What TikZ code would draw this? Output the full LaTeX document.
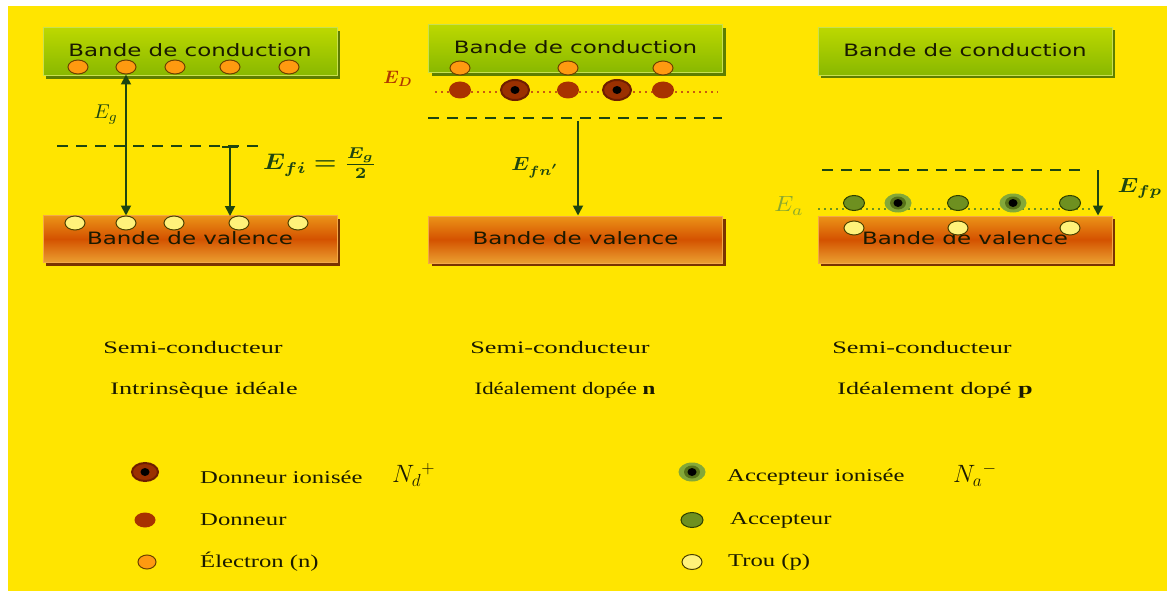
\documentclass[tikz,border=0pt]{standalone}
\usepackage{fontspec}
\usepackage{amsmath,bm}
\usetikzlibrary{shapes.geometric,arrows.meta,shadows}
\setmainfont{Liberation Serif}
\newfontfamily\bandfont[FakeStretch=1.35]{DejaVu Sans}
\newfontfamily\capfont[FakeStretch=1.5]{Liberation Serif}
\newfontfamily\capnarrow[FakeStretch=1.31]{Liberation Serif}
\newfontfamily\legfont[FakeStretch=1.37]{Liberation Serif}

\definecolor{bg}{HTML}{FFE500}
\definecolor{textc}{HTML}{1A1A00}
\definecolor{cbtop}{HTML}{BCD800}
\definecolor{cbbot}{HTML}{88B800}
\definecolor{cbedge}{HTML}{C8E050}
\definecolor{cbshadow}{HTML}{5E7E00}
\definecolor{vbtop}{HTML}{EC9418}
\definecolor{vbmid}{HTML}{D45200}
\definecolor{vbbot}{HTML}{EBA030}
\definecolor{vbedge}{HTML}{F4A848}
\definecolor{vbshadow}{HTML}{7A3400}
\definecolor{lvl}{HTML}{1E4510}
\definecolor{elfill}{HTML}{FF9A10}
\definecolor{eldraw}{HTML}{6B4000}
\definecolor{hofill}{HTML}{FFF27A}
\definecolor{hodraw}{HTML}{4A4000}
\definecolor{dofill}{HTML}{A83200}
\definecolor{ionring}{HTML}{6E1E00}
\definecolor{ionfill}{HTML}{9A3000}
\definecolor{acfill}{HTML}{6E9020}
\definecolor{acdraw}{HTML}{2E4000}
\definecolor{acring}{HTML}{84A838}
\definecolor{edcol}{HTML}{B03A00}
\definecolor{eacol}{HTML}{8AA830}
\definecolor{dotbrown}{HTML}{C85A10}
\definecolor{dotgreen}{HTML}{6B9020}

\begin{document}
\begin{tikzpicture}[x=1pt,y=-1pt,
  band/.style={rectangle, inner sep=0pt, line width=1pt, text=textc,
    font=\bandfont\fontsize{17}{20}\selectfont},
  cband/.style={band, minimum width=294pt, minimum height=48pt, draw=cbedge,
    top color=cbtop, bottom color=cbbot,
    drop shadow={shadow xshift=3pt, shadow yshift=-3pt, fill=cbshadow, opacity=1}},
  vband/.style={band, minimum width=294pt, minimum height=47pt, draw=vbedge,
    top color=vbtop, bottom color=vbbot, middle color=vbmid,
    drop shadow={shadow xshift=3pt, shadow yshift=-3pt, fill=vbshadow, opacity=1}},
  particle/.style={ellipse, inner sep=0pt},
  electron/.style={particle, minimum width=20pt, minimum height=14pt,
    fill=elfill, draw=eldraw, line width=1pt},
  hole/.style={particle, minimum width=20pt, minimum height=14pt,
    fill=hofill, draw=hodraw, line width=1pt},
  donor/.style={particle, minimum width=22pt, minimum height=17pt, fill=dofill},
  iondonor/.style={particle, minimum width=28pt, minimum height=20pt,
    fill=ionfill, draw=ionring, line width=2pt,
    path picture={\fill[black] (path picture bounding box.center) ellipse (4.5pt and 4pt);}},
  acceptor/.style={particle, minimum width=21pt, minimum height=15pt,
    fill=acfill, draw=acdraw, line width=1pt},
  ionacceptor/.style={particle, minimum width=27pt, minimum height=19pt, fill=acring,
    path picture={\fill[acfill!80!black] (path picture bounding box.center) ellipse (8pt and 6.5pt);
                  \fill[black] (path picture bounding box.center) ellipse (4.5pt and 4pt);}},
  fermi/.style={draw=lvl, line width=2.2pt, dash pattern=on 11pt off 8pt},
  gap/.style={draw=lvl, line width=1.8pt},
  tip/.style={-{Triangle[length=10pt,width=10pt]}},
  dtip/.style={{Triangle[length=10pt,width=10pt]}-{Triangle[length=10pt,width=10pt]}},
  caption/.style={text=textc, font=\capfont\fontsize{17.5}{20}\selectfont, inner sep=0pt},
  legend/.style={text=textc, font=\legfont\fontsize{18}{20}\selectfont, inner sep=0pt, anchor=west},
  lab/.style={text=lvl, inner sep=0pt}
]
\useasboundingbox (0,0) rectangle (1167,591);
\fill[white] (0,0) rectangle (1167,591);
\fill[bg] (8,6) rectangle (1167,591);

% ---------- intrinsic semiconductor ----------
\node[cband] (cb1) at (190,52) {\raisebox{4pt}{Bande de conduction}};
\node[vband] (vb1) at (190,239) {\raisebox{2pt}{Bande de valence}};
\foreach \x [count=\i] in {78,126,175,230,289}
  \node[electron] (e1\i) at (\x,67) {};
\foreach \x [count=\i] in {75,126,174,239,298}
  \node[hole] (h1\i) at (\x,223) {};
\coordinate (f1a) at (57,146);
\coordinate (f1b) at (265,146);
\draw[fermi] (f1a) -- (f1b);
\draw[gap,dtip] (e12.south) -- (h12.north);
\coordinate (a1s) at (230,147);
\coordinate (a1e) at (230,216);
\draw[gap,tip] (a1s) -- (a1e);
\draw[gap] (222,147) -- (238,147);
\node[lab] (eg) at (106,115) {\scalebox{2}{$E_g$}};
\node[lab, anchor=west] (efi) at (263,163)
  {\scalebox{2.55}[2.25]{$\bm{E_{fi}=\frac{E_g}{2}}$}};

% ---------- n-type semiconductor ----------
\node[cband] (cb2) at (575.5,49) {\raisebox{4pt}{Bande de conduction}};
\node[vband] (vb2) at (575.5,239.5) {\raisebox{2pt}{Bande de valence}};
\coordinate (d2a) at (435,92);
\coordinate (d2b) at (718,92);
\draw[dotbrown, line width=1.6pt, dash pattern=on 2pt off 4pt] (d2a) -- (d2b);
\foreach \x [count=\i] in {460,568,663}
  \node[electron] (e2\i) at (\x,68) {};
\node[donor] (n21) at (460,90) {};
\node[iondonor] (n22) at (515,90) {};
\node[donor] (n23) at (568,90) {};
\node[iondonor] (n24) at (617,90) {};
\node[donor] (n25) at (663,90) {};
\coordinate (f2a) at (428,118);
\coordinate (f2b) at (722,118);
\draw[fermi] (f2a) -- (f2b);
\coordinate (a2s) at (578,121);
\draw[gap,tip] (a2s) -- (a2s |- vb2.north);
\node[lab, text=edcol] (ed) at (398,79) {\scalebox{1.8}{$\bm{E_D}$}};
\node[lab] (efn) at (535,168) {\scalebox{2.1}[1.9]{$\bm{E_{fn'}}$}};

% ---------- p-type semiconductor ----------
\node[cband] (cb3) at (965,51.5) {\raisebox{3pt}{Bande de conduction}};
\node[vband] (vb3) at (965,239.5) {\raisebox{2pt}{Bande de valence}};
\coordinate (d3a) at (818,209);
\coordinate (d3b) at (1094,209);
\draw[dotgreen, line width=1.6pt, dash pattern=on 2pt off 4pt] (d3a) -- (d3b);
\node[acceptor] (p31) at (854,203) {};
\node[ionacceptor] (p32) at (898,203) {};
\node[acceptor] (p33) at (958,203) {};
\node[ionacceptor] (p34) at (1013,203) {};
\node[acceptor] (p35) at (1070,203) {};
\foreach \x [count=\i] in {854,958,1070}
  \node[hole] (h3\i) at (\x,228) {};
\coordinate (f3a) at (822,170);
\coordinate (f3b) at (1086,170);
\draw[fermi] (f3a) -- (f3b);
\coordinate (a3s) at (1098,170);
\draw[gap,tip] (a3s) -- (a3s |- vb3.north);
\node[lab, text=eacol] (ea) at (789,206) {\scalebox{2.4}[2.2]{$E_a$}};
\node[lab] (efp) at (1140,188) {\scalebox{2.4}[2.05]{$\bm{E_{fp}}$}};

% ---------- captions ----------
\node[caption] (c1a) at (193,348) {Semi-conducteur};
\node[caption] (c1b) at (204,390) {Intrinsèque idéale};
\node[caption] (c2a) at (560,348) {Semi-conducteur};
\node[caption, font=\capnarrow\fontsize{17.5}{20}\selectfont] (c2b) at (565,390) {Idéalement dopée \textbf{n}};
\node[caption] (c3a) at (922,348) {Semi-conducteur};
\node[caption] (c3b) at (935,390) {Idéalement dopé \textbf{p}};

% ---------- legend ----------
\node[iondonor, minimum width=26pt, minimum height=18pt] (k1) at (145,472) {};
\node[donor, minimum width=21pt, minimum height=15pt] (k2) at (145,520) {};
\node[electron, minimum width=18pt, minimum height=14pt] (k3) at (147,562) {};
\node[legend] (t1) at (200,477) {Donneur ionisée};
\node[legend] (t1m) at (392,475) {\scalebox{1.45}{$N_d{}^{+}$}};
\node[legend] (t2) at (200,520) {Donneur};
\node[legend] (t3) at (200,562) {Électron (n)};
\node[ionacceptor] (k4) at (692,472) {};
\node[acceptor, minimum width=22pt] (k5) at (692,520) {};
\node[hole, minimum height=15pt] (k6) at (692,562) {};
\node[legend] (t4) at (727,477) {Accepteur ionisée};
\node[legend] (t4m) at (953,475) {\scalebox{1.45}{$N_a{}^{-}$}};
\node[legend] (t5) at (730,520) {Accepteur};
\node[legend] (t6) at (728,562) {Trou (p)};
\end{tikzpicture}
\end{document}
